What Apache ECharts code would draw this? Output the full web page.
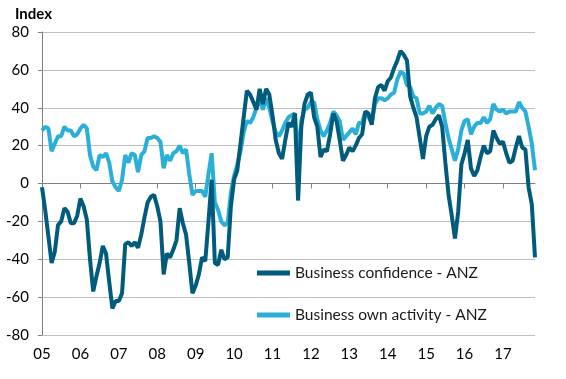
<!DOCTYPE html>
<html>
<head>
<meta charset="utf-8">
<script src="https://cdn.jsdelivr.net/npm/echarts@6/dist/echarts.min.js"></script>
<style>html,body{margin:0;padding:0;background:#fff}#c{width:566px;height:379px}</style>
</head>
<body>
<div id="c"></div>
<script>
const years = ['05','06','07','08','09','10','11','12','13','14','15','16','17'];
const monthsInLastYear = 11;
const yTicks = [-80, -60, -40, -20, 0, 20, 40, 60, 80];
const seriesNames = ['Business confidence - ANZ', 'Business own activity - ANZ'];
const confidence = [
  -2,-14,-28,-42,-36,-22,-20,-13,-15,-21,-21,-17,
  -8,-12,-19,-40,-57,-49,-42,-33,-37,-52,-66,-62,
  -62,-58,-32,-31,-33,-31,-34,-27,-18,-10,-7,-6,
  -12,-20,-48,-37,-39,-35,-30,-13,-21,-27,-42,-58,
  -54,-48,-39,-41,-20,2,-42,-43,-35,-40,-39,-12,
  2,7,21,35,49,47,43,39,50,42,50,47,
  36,23,16,13,23,32,30,37,-9,30,42,47,
  48,35,30,14,18,17,26,37,33,23,12,15,
  19,17,20,24,26,38,37,31,45,51,52,49,
  54,56,61,65,70,68,65,46,40,35,24,13,
  25,30,31,34,36,30,11,-6,-17,-29,-15,10,
  16,23,8,4,7,14,20,16,17,28,24,21,
  22,16,11,12,19,25,19,18,-2,-11,-39
];
const ownActivity = [
  28,30,29,17,21,25,25,30,28,28,25,26,
  29,31,29,15,9,7,15,14,16,11,1,-2,
  -4,2,15,11,16,15,6,15,17,24,24,25,
  24,22,8,15,12,16,17,20,16,18,5,-6,
  -4,-4,-4,-7,5,16,-10,-14,-20,-22,-21,-5,
  4,10,17,27,33,32,35,40,44,39,45,40,
  33,27,25,28,32,35,36,37,14,33,39,40,
  43,43,34,28,25,28,32,38,36,33,23,25,
  27,29,26,32,32,38,35,32,42,45,45,44,
  45,47,48,55,59,58,52,51,46,45,37,37,
  38,41,37,40,42,41,32,24,18,12,18,28,
  33,34,26,30,32,32,35,32,34,42,39,38,
  39,37,38,38,38,43,40,38,30,21,7
];
const colors = ['#005B7C', '#2AB0D8'];

const categories = [];
years.forEach((y, i) => {
  const n = i === years.length - 1 ? monthsInLastYear : 12;
  for (let m = 0; m < n; m++) categories.push(m === 0 ? y : y + '-' + (m + 1));
});

const font = 'Lato, "Open Sans", sans-serif';
const chart = echarts.init(document.getElementById('c'), null, {renderer: 'canvas'});
chart.setOption({
  animation: false,
  title: {text: 'Index', left: 15, top: 7, padding: 0, textStyle: {fontFamily: font, fontSize: 15, fontWeight: 'bold', color: '#000'}},
  grid: {left: 42, right: 31, top: 32, bottom: 44, containLabel: false},
  legend: {
    orient: 'vertical', left: 257, top: 265, itemGap: 26, padding: 0,
    icon: 'rect', itemWidth: 33, itemHeight: 5,
    data: seriesNames,
    textStyle: {fontFamily: font, fontSize: 15.5, color: '#1a1a1a', padding: [0,0,0,0]}
  },
  xAxis: [{
    type: 'category', data: categories, boundaryGap: false,
    axisLine: {onZero: true, lineStyle: {color: '#808080', width: 1}},
    axisTick: {show: true, length: 5, interval: (i) => i % 12 === 0, lineStyle: {color: '#808080'}},
    axisLabel: {show: false},
    splitLine: {show: false}
  }, {
    type: 'category', data: categories, boundaryGap: false, position: 'bottom',
    axisLine: {show: false, onZero: false}, axisTick: {show: false},
    axisLabel: {show: true, interval: (i) => i % 12 === 0, margin: 12,
      formatter: (v) => v.length === 2 ? v : '',
      fontFamily: font, fontSize: 15, color: '#000'}
  }],
  yAxis: {
    type: 'value', min: yTicks[0], max: yTicks[yTicks.length - 1], interval: 20,
    axisLine: {show: true, lineStyle: {color: '#808080'}},
    axisTick: {show: true, length: 4, lineStyle: {color: '#808080'}},
    axisLabel: {margin: 13, fontFamily: font, fontSize: 15, color: '#000'},
    splitLine: {show: true, lineStyle: {color: '#BFBFBF', width: 1}}
  },
  series: [
    {name: seriesNames[1], type: 'line', data: ownActivity, xAxisIndex: 0, showSymbol: false, symbol: 'none',
      lineStyle: {color: colors[1], width: 4}, itemStyle: {color: colors[1]}, z: 2},
    {name: seriesNames[0], type: 'line', data: confidence, xAxisIndex: 0, showSymbol: false, symbol: 'none',
      lineStyle: {color: colors[0], width: 4}, itemStyle: {color: colors[0]}, z: 3}
  ]
});
</script>
</body>
</html>
